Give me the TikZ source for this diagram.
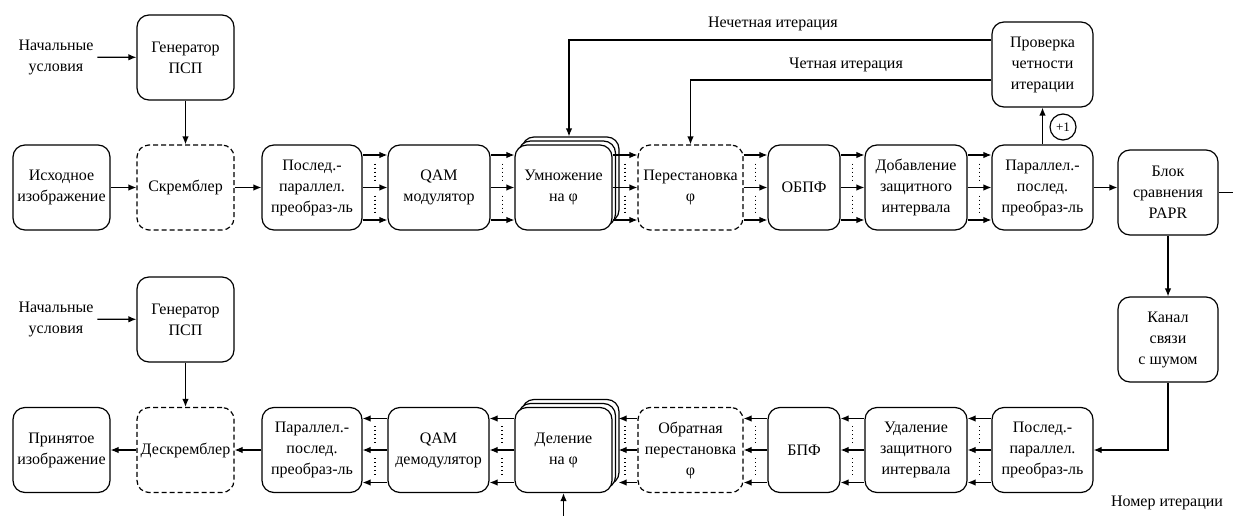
\documentclass[tikz,border=0pt]{standalone}
\usepackage{fontspec}
\setmainfont{Liberation Serif}
\usetikzlibrary{arrows.meta,calc,shadows}

\begin{document}
\begin{tikzpicture}
      [x = 1pt, y = -1pt,
      line width = 1.2pt,
      font = \rmfamily\fontsize{16}{21}\selectfont,
      conn/.style = {-{Latex[length = 8pt, width = 6.5pt]}},
      block/.style = {
         draw,
         fill = white,
         rounded corners = 12pt,
         align = center,
         inner sep = 0pt,
         minimum height = 85pt,
         minimum width = 97pt
      },
      dblock/.style = {
         block,
         dash pattern = on 5pt off 3pt
      },
      stacked/.style = {
         block,
         double copy shadow={shadow xshift=3.5pt,shadow yshift=4pt,draw=black,fill=white,line width=1.2pt}
      },
      busdots/.style = {
         line width = 1.2pt,
         dash pattern = on 1pt off 3pt
      }]

      \useasboundingbox (0, 0) rectangle (1233, 516);

      % transmitter
      \node[align = center] (init1) at (56, 57) {Начальные\\условия};
      \node[block] (gen1) at (185.5, 57.5) {Генератор\\ПСП};
      \node[block] (src) at (61.5, 187.5) {Исходное\\изображение};
      \node[dblock] (scr) at (185.5, 187.5) {Скремблер};
      \node[block, minimum width = 100pt] (sp1) at (312, 187.5) {Послед.-\\параллел.\\преобраз-ль};
      \node[block, minimum width = 102pt] (qam) at (439, 187.5) {QAM\\модулятор};
      \node[stacked] (mul) at (563.5, 187.5) {Умножение\\на φ};
      \node[dblock, minimum width = 105pt] (perm) at (690.5, 187.5) {Перестановка\\φ};
      \node[block, minimum width = 72pt] (ifft) at (804, 187.5) {ОБПФ};
      \node[block, minimum width = 102pt] (gi) at (916, 187.5) {Добавление\\защитного\\интервала};
      \node[block, minimum width = 101pt] (ps1) at (1042.5, 187.5) {Параллел.-\\послед.\\преобраз-ль};
      \node[block, minimum width = 101pt] (chk) at (1042.5, 64.5) {Проверка\\четности\\итерации};
      \node[block, minimum width = 100pt] (papr) at (1168, 192.5) {Блок\\сравнения\\PAPR};
      \node[block, minimum width = 100pt] (chan) at (1168, 339.5) {Канал\\связи\\с шумом};
      \node[draw, circle, inner sep = 1pt, minimum size = 26pt,
         font = \rmfamily\fontsize{13}{15}\selectfont] (inc) at (1063, 127) {+1};
      \node (odd) at (773, 24) {Нечетная итерация};
      \node (even) at (846, 65) {Четная итерация};

      % receiver
      \node[align = center] (init2) at (56, 319) {Начальные\\условия};
      \node[block] (gen2) at (185.5, 319.5) {Генератор\\ПСП};
      \node[block] (dst) at (61.5, 450) {Принятое\\изображение};
      \node[dblock] (dscr) at (185.5, 450) {Дескремблер};
      \node[block, minimum width = 100pt] (ps2) at (312, 450) {Параллел.-\\послед.\\преобраз-ль};
      \node[block, minimum width = 101pt] (qdem) at (438.5, 450) {QAM\\демодулятор};
      \node[stacked] (div) at (563.5, 450) {Деление\\на φ};
      \node[dblock, minimum width = 105pt] (iperm) at (690.5, 450) {Обратная\\перестановка\\φ};
      \node[block, minimum width = 72pt] (fft) at (804, 450) {БПФ};
      \node[block, minimum width = 102pt] (rgi) at (916, 450) {Удаление\\защитного\\интервала};
      \node[block, minimum width = 101pt] (sp2) at (1042.5, 450) {Послед.-\\параллел.\\преобраз-ль};
      \node (iternum) at (1167, 503) {Номер итерации};

      \coordinate (out) at (1233, 192.5);
      \coordinate (iter) at (563.5, 516);

      % single connectors
      \draw[conn] (init1) -- (gen1);
      \draw[conn] (gen1) -- (scr);
      \draw[conn] (src) -- (scr);
      \draw[conn] (scr) -- (sp1);
      \draw[conn] (ps1) -- (chk);
      \draw[conn] (ps1.east) -- (ps1.east -| papr.west);
      \draw (papr.east) -- (out);
      \draw[conn] (papr) -- (chan);
      \draw[conn] (chan.south) |- (sp2.east);
      \draw[conn] ([yshift = 24.5pt]chk.west) -| ([xshift = 5.5pt, yshift = 8pt]mul.north);
      \draw[conn] ([yshift = -15.5pt]chk.west) -| (perm.north);

      \draw[conn] (init2) -- (gen2);
      \draw[conn] (gen2) -- (dscr);
      \draw[conn] (ps2) -- (dscr);
      \draw[conn] (dscr) -- (dst);
      \draw[conn] (iter) -- (div);

      % parallel buses
      \foreach \a/\b in {sp1/qam, qam/mul, mul/perm, perm/ifft, ifft/gi, gi/ps1} {
         \foreach \dy in {-32.5, 0, 32.5}
            \draw[conn] ([yshift = \dy pt]\a.east) -- ([yshift = \dy pt]\b.west);
         \draw[busdots] ($(\a.east)!.5!(\b.west) + (0, -24)$) -- ($(\a.east)!.5!(\b.west) + (0, -7)$);
         \draw[busdots] ($(\a.east)!.5!(\b.west) + (0, 8)$) -- ($(\a.east)!.5!(\b.west) + (0, 25)$);
      }
      \foreach \a/\b/\s in {sp2/rgi/0, rgi/fft/0, fft/iperm/0, iperm/div/6, div/qdem/0, qdem/ps2/0} {
         \foreach \dy in {-32.5, 0, 31.5}
            \draw[conn] ([yshift = \dy pt]\a.west) -- ([xshift = \s pt, yshift = \dy pt]\b.east);
         \draw[busdots] ($(\a.west)!.5!(\b.east) + (0, -24)$) -- ($(\a.west)!.5!(\b.east) + (0, -7)$);
         \draw[busdots] ($(\a.west)!.5!(\b.east) + (0, 8)$) -- ($(\a.west)!.5!(\b.east) + (0, 25)$);
      }

   \end{tikzpicture}
\end{document}
